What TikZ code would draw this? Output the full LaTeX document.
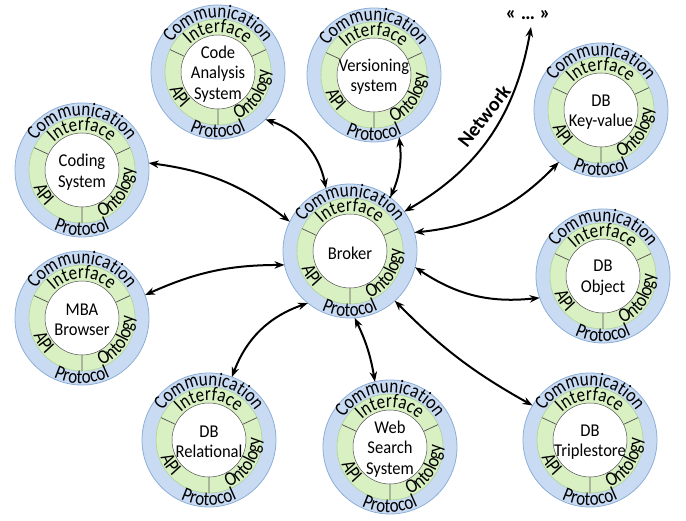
\documentclass[tikz,border=0pt]{standalone}
\usepackage{fontspec}
\setmainfont{Carlito}
\newfontfamily\ringfont[FakeStretch=0.85]{Carlito}
\newfontfamily\centerfont[FakeStretch=0.92]{Carlito}
\usetikzlibrary{arrows.meta,decorations.text}
\newcommand\rf{\ringfont\fontsize{20}{22}\selectfont}
\newcommand\cf{\centerfont\fontsize{18}{20.5}\selectfont}
\newcommand\boldbig{\fontsize{20}{22}\selectfont\bfseries}
\pgfdeclareradialshading{innerball}{\pgfpoint{0bp}{0bp}}{color(0bp)=(white); color(25bp)=(white); color(38bp)=(black!10); color(50bp)=(black!42)}
\definecolor{ringblue}{RGB}{200,219,243}
\definecolor{ringblueedge}{RGB}{140,174,215}
\definecolor{ringgreen}{RGB}{216,240,194}
\definecolor{ringgreenedge}{RGB}{175,210,150}
\definecolor{divgray}{RGB}{80,80,80}
\tikzset{
  agentnode/.style={circle, minimum size=134pt, inner sep=0pt, outer sep=0pt},
  link/.style={line width=2pt, {Stealth[length=10pt,width=7.5pt]}-{Stealth[length=10pt,width=7.5pt]}},
  arctext/.style={decorate, decoration={text along path, text align=center, text={|\rf|#1}}},
  ringlabel/.style={font=\cf, align=center},
  boldlabel/.style={font=\boldbig},
}
\newcommand\myagent[4]{%
  \begin{scope}[shift={(#2,#3)}]
    \fill[ringblue, draw=ringblueedge, line width=0.8pt] (0,0) circle (67);
    \fill[ringgreen, draw=ringgreenedge, line width=0.6pt] (0,0) circle (53);
    \shade[shading=innerball, draw=divgray, line width=0.5pt] (0,0) circle (37);
    \draw[divgray, line width=0.7pt] (155:37) -- (155:53) (25:37) -- (25:53) (270:37) -- (270:53);
    \path[arctext=Communication] (170:54.5) arc[start angle=170, end angle=10, radius=54.5];
    \path[arctext=Interface] (160:39.5) arc[start angle=160, end angle=20, radius=39.5];
    \path[arctext=Protocol] (200:65.5) arc[start angle=200, end angle=340, radius=65.5];
    \path[arctext=API] (175:51.5) arc[start angle=175, end angle=250, radius=51.5];
    \path[arctext=Ontology] (280:51.5) arc[start angle=280, end angle=375, radius=51.5];
    \node[ringlabel] at (0,-2) {#4};
  \end{scope}
  \node[agentnode] (#1) at (#2,#3) {};
}
\begin{document}
\begin{tikzpicture}[x=1pt, y=1pt]
  \useasboundingbox (0,0) rectangle (686,520);
  \myagent{CA}{218}{448}{Code\\Analysis\\System}
  \myagent{VS}{374}{445}{Versioning\\system}
  \myagent{KV}{601}{410}{DB\\Key-value}
  \myagent{CS}{82}{350}{Coding\\System}
  \myagent{BR}{350}{269}{Broker}
  \myagent{DO}{603}{244}{DB\\Object}
  \myagent{MB}{82}{202}{MBA\\Browser}
  \myagent{DR}{209}{80}{DB\\Relational}
  \myagent{WS}{390}{73}{Web\\Search\\System}
  \myagent{DT}{590}{80}{DB\\Triplestore}
  \node[boldlabel] (dots) at (528,505) {« … »};
  \coordinate (NET) at (531,493);
  \node[boldlabel, rotate=52] (netlabel) at (484,404) {Network};
  \draw[link] (CA.315) to[bend left=30] (BR.111);
  \draw[link] (CS.6) to[bend left=15] (BR.154);
  \draw[link] (VS.292) to[bend left=15] (BR.53);
  \draw[link] (BR.36) to[out=30, in=-100] (NET);
  \draw[link] (KV.231) to[bend left=20] (BR.16);
  \draw[link] (MB.20) to[bend left=12] (BR.192);
  \draw[link] (BR.346) to[bend right=20] (DO.199);
  \draw[link] (DR.70) to[bend left=25] (BR.231);
  \draw[link] (BR.274) to[bend left=8] (WS.103);
  \draw[link] (BR.312) to[bend right=8] (DT.149);
\end{tikzpicture}
\end{document}
